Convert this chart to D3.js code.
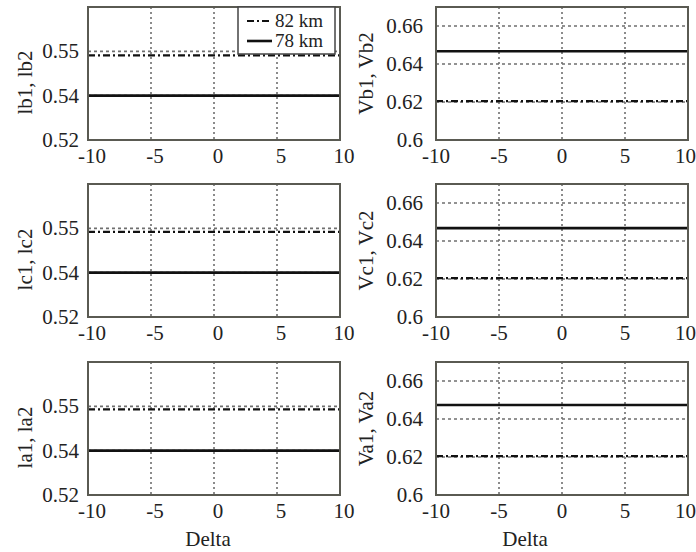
<!DOCTYPE html>
<html>
<head>
<meta charset="utf-8">
<script src="https://cdn.jsdelivr.net/npm/d3@7"></script>
<style>
body { margin: 0; background: #fff; }
</style>
</head>
<body>
<svg id="chart" width="696" height="552" font-family="'Liberation Serif', 'DejaVu Serif', serif"></svg>
<script>
// Delta sweep (x axis)
var deltas = [-10, -5, 0, 5, 10];
var xTicks = [-10, -5, 0, 5, 10];

// current panels (left column): tick labels are unevenly spaced in the source
var iDomain = [0.52, 0.54, 0.55, 0.56];
var iTicks = [0.52, 0.54, 0.55];
var iLabels = ["lb1, lb2", "lc1, lc2", "la1, la2"];
var i82 = [
	[0.5491, 0.5491, 0.5491, 0.5491, 0.5491],
	[0.5492, 0.5492, 0.5492, 0.5492, 0.5492],
	[0.5493, 0.5493, 0.5493, 0.5493, 0.5493]
];
var i78 = [
	[0.54, 0.54, 0.54, 0.54, 0.54],
	[0.54, 0.54, 0.54, 0.54, 0.54],
	[0.54, 0.54, 0.54, 0.54, 0.54]
];

// voltage panels (right column)
var vDomain = [0.6, 0.67];
var vTicks = [0.6, 0.62, 0.64, 0.66];
var vLabels = ["Vb1, Vb2", "Vc1, Vc2", "Va1, Va2"];
var v82 = [
	[0.6205, 0.6205, 0.6205, 0.6205, 0.6205],
	[0.6205, 0.6205, 0.6205, 0.6205, 0.6205],
	[0.6205, 0.6205, 0.6205, 0.6205, 0.6205]
];
var v78 = [
	[0.6467, 0.6467, 0.6467, 0.6467, 0.6467],
	[0.6468, 0.6468, 0.6468, 0.6468, 0.6468],
	[0.6474, 0.6474, 0.6474, 0.6474, 0.6474]
];

var legendNames = ["82 km", "78 km"];

var svg = d3.select("#chart");
var colX = [88, 436];
var rowY = [7, 184, 362];
var pw = 252, ph = 133;
var fs = 21;
var dashDot = "7,3,2,3";
var ink = "#222";

var x = d3.scaleLinear().domain([-10, 10]).range([0, pw]);

const drawPanel = function (col, row) {
	var isV = col === 1;
	var y = isV
		? d3.scaleLinear().domain(vDomain).range([ph, 0])
		: d3.scaleLinear().domain(iDomain).range([ph, ph * 2 / 3, ph / 3, 0]);
	var ticks = isV ? vTicks : iTicks;
	var g = svg.append("g").attr("transform", `translate(${colX[col]},${rowY[row]})`);

	g.append("rect")
		.attr("width", pw).attr("height", ph)
		.attr("fill", "#fff");

	// dotted grid
	g.selectAll(".vgrid")
		.data(xTicks.slice(1, -1))
		.enter().append("line")
		.attr("x1", d => x(d)).attr("x2", d => x(d))
		.attr("y1", 0).attr("y2", ph)
		.attr("stroke", "#6f6f6f").attr("stroke-width", 1.6)
		.attr("stroke-dasharray", "2,3");
	g.selectAll(".hgrid")
		.data(ticks.slice(1))
		.enter().append("line")
		.attr("x1", 0).attr("x2", pw)
		.attr("y1", d => y(d)).attr("y2", d => y(d))
		.attr("stroke", "#6f6f6f").attr("stroke-width", 1.6)
		.attr("stroke-dasharray", "3,3");

	var line = d3.line().x((d, i) => x(deltas[i])).y(d => y(d));
	var s82 = isV ? v82[row] : i82[row];
	var s78 = isV ? v78[row] : i78[row];
	g.append("path").datum(s82)
		.attr("d", line).attr("fill", "none")
		.attr("stroke", "#111").attr("stroke-width", 2.2)
		.attr("stroke-dasharray", dashDot);
	g.append("path").datum(s78)
		.attr("d", line).attr("fill", "none")
		.attr("stroke", "#111").attr("stroke-width", 2.6);

	g.append("rect")
		.attr("width", pw).attr("height", ph)
		.attr("fill", "none").attr("stroke", "#5a5a52").attr("stroke-width", 2);

	// tick labels
	g.selectAll(".ytl")
		.data(ticks)
		.enter().append("text")
		.attr("x", isV ? -13 : -9).attr("y", d => y(d))
		.attr("dy", "0.33em")
		.attr("text-anchor", "end")
		.attr("fill", ink)
		.style("font-size", fs + "px")
		.text(d => String(d));
	// the last label of the right column is pulled in so it stays on the page
	var lastRight = (d, i) => isV && i === xTicks.length - 1;
	g.selectAll(".xtl")
		.data(xTicks)
		.enter().append("text")
		.attr("x", (d, i) => lastRight(d, i) ? pw + 8 : x(d) + (isV ? 0 : 4))
		.attr("y", ph + 23)
		.attr("text-anchor", (d, i) => lastRight(d, i) ? "end" : "middle")
		.attr("fill", ink)
		.style("font-size", fs + "px")
		.text(d => String(d));

	// axis title
	var lab = isV ? vLabels[row] : iLabels[row];
	var cy = ph / 2 + (isV ? 0 : 9);
	var lx = isV ? -70 : -63;
	g.append("text")
		.attr("transform", `translate(${lx},${cy}) rotate(-90)`)
		.attr("text-anchor", "middle")
		.attr("dy", "0.33em")
		.attr("fill", ink)
		.style("font-size", fs + "px")
		.text(lab);

	if (row === 2) {
		g.append("text")
			.attr("x", isV ? 89 : 120).attr("y", ph + 51)
			.attr("text-anchor", "middle")
			.attr("fill", ink)
			.style("font-size", fs + "px")
			.text("Delta");
	}
	return g;
};

var panels = [];
[0, 1, 2].forEach(r => {
	[0, 1].forEach(c => {
		panels.push(drawPanel(c, r));
	});
});

// legend in the first panel
var lg = panels[0].append("g").attr("transform", `translate(${pw - 102},0)`);
lg.append("rect")
	.attr("width", 97).attr("height", 47)
	.attr("fill", "#fff").attr("stroke", "#444").attr("stroke-width", 1.5);
legendNames.forEach((name, i) => {
	var yy = 14 + i * 20;
	lg.append("line")
		.attr("x1", 9).attr("x2", 34)
		.attr("y1", yy).attr("y2", yy)
		.attr("stroke", "#111")
		.attr("stroke-width", i === 0 ? 2.2 : 2.6)
		.attr("stroke-dasharray", i === 0 ? dashDot : null);
	lg.append("text")
		.attr("x", 37).attr("y", yy)
		.attr("dy", "0.33em")
		.attr("fill", ink)
		.style("font-size", "19px")
		.text(name);
});
</script>
</body>
</html>
